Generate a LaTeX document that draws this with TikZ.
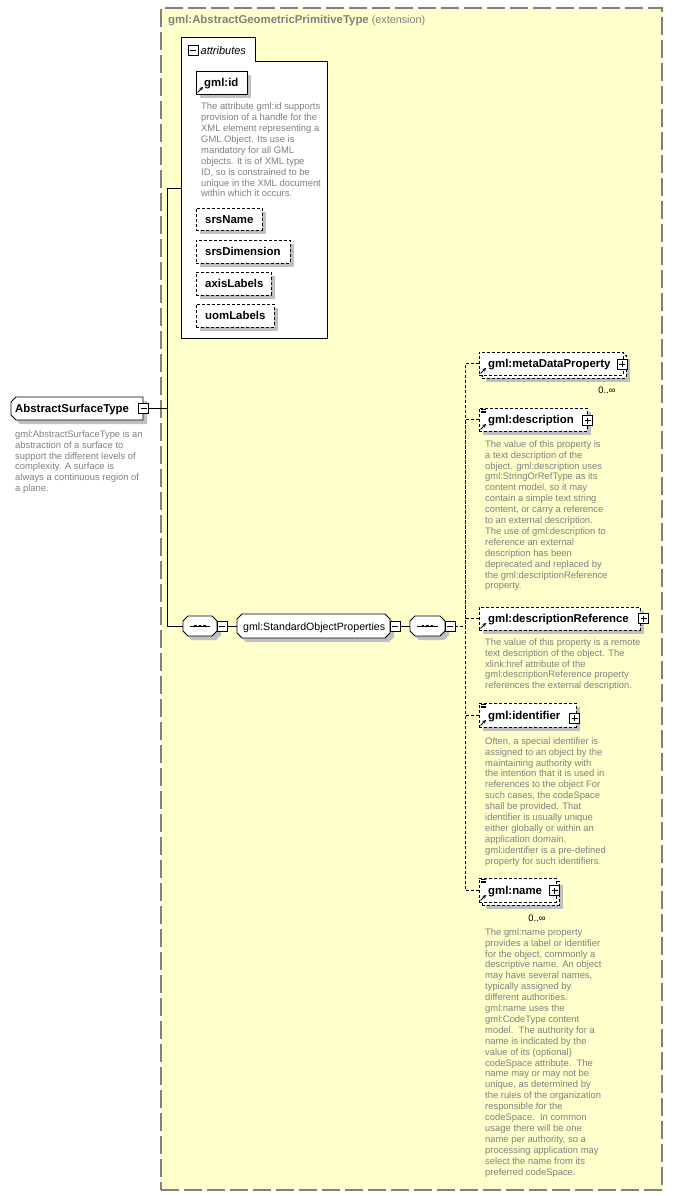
\documentclass[tikz,border=0pt]{standalone}
\usepackage{fontspec}
\setmainfont{Liberation Sans}
\usetikzlibrary{fit,arrows.meta}
\definecolor{yel}{RGB}{255,255,204}
\definecolor{bordergray}{RGB}{128,128,128}
\definecolor{descgray}{RGB}{128,128,128}
\definecolor{shadowc}{RGB}{192,192,192}

\newcommand\Cham[6]{%
 \fill[shadowc] (#1+4+#5,#2+4) -- (#3+4-#6,#2+4) -- (#3+4,#2+4+#6) -- (#3+4,#4+4-#6) -- (#3+4-#6,#4+4) -- (#1+4+#5,#4+4) -- (#1+4,#4+4-#5) -- (#1+4,#2+4+#5) -- cycle;
 \filldraw[fill=white, draw=black, line width=0.9pt] (#1+#5,#2) -- (#3-#6,#2) -- (#3,#2+#6) -- (#3,#4-#6) -- (#3-#6,#4) -- (#1+#5,#4) -- (#1,#4-#5) -- (#1,#2+#5) -- cycle;}
\newcommand\Shad[4]{\fill[shadowc] (#1+4,#2+4) rectangle (#3+4,#4+4);}
\newcommand\SeqDots[1]{%
 \draw[line width=0.9pt] ([xshift=7pt]#1.west) -- ([xshift=-7pt]#1.east);
 \foreach \dx in {-4.5,0,4.5} \fill ([shift={(\dx-1.3,-1.3)}]#1.center) rectangle ([shift={(\dx+1.3,1.3)}]#1.center);}
\newcommand\RefArrow[1]{\draw[-{Stealth[length=3.6pt,width=3.6pt]}, line width=0.9pt] ([shift={(2,-2)}]#1.south west) -- ([shift={(7.5,-7.5)}]#1.south west);}
\newcommand\MixIcon[1]{\foreach \dd in {1.5,3.3,5.1}{\draw[line width=0.6pt] ([shift={(2,\dd)}]#1.north west) -- ([shift={(7.5,\dd)}]#1.north west);}}

\tikzset{
 elem/.style={draw=black, fill=white, line width=0.9pt, inner sep=0pt},
 optelem/.style={elem, dash pattern=on 3pt off 2pt},
 ghost/.style={draw=none, inner sep=0pt},
 ename/.style={anchor=base west, inner sep=0pt, font=\fontsize{11.4}{13}\selectfont\bfseries},
 desc/.style={anchor=north west, inner sep=0pt, align=left, text=descgray, font=\fontsize{9.4}{10.9}\selectfont},
 mult/.style={anchor=base, inner sep=0pt, font=\fontsize{9.4}{11}\selectfont},
 pm/.style={draw=black, fill=white, line width=0.9pt, minimum size=10pt, inner sep=0pt},
 minusbox/.style={pm, path picture={\draw[line width=0.9pt] ([xshift=2pt]path picture bounding box.west) -- ([xshift=-2pt]path picture bounding box.east);}},
 plusbox/.style={pm, path picture={\draw[line width=0.9pt] ([xshift=2pt]path picture bounding box.west) -- ([xshift=-2pt]path picture bounding box.east) ([yshift=-2pt]path picture bounding box.north) -- ([yshift=2pt]path picture bounding box.south);}},
 conn/.style={draw=black, line width=0.9pt},
 dconn/.style={draw=black, line width=0.9pt, dash pattern=on 3pt off 2pt},
}
\newcommand\FL{\rule{0pt}{7pt}}

\begin{document}
\begin{tikzpicture}[x=1pt,y=-1pt]
\useasboundingbox (0,0) rectangle (672,1196);
\fill[white] (0,0) rectangle (672,1196);

% extension container
\node[fit={(161,8)(662,1190)}, inner sep=0pt, fill=yel, draw=bordergray, line width=1.4pt, dash pattern=on 18pt off 5pt] (ext) {};
\node[anchor=base west, inner sep=0pt, text=descgray] (title) at (168,23.3) {\fontsize{11.4}{13}\selectfont\bfseries gml:AbstractGeometricPrimitiveType\mdseries\fontsize{10.8}{13}\selectfont{} (extension)};

% attributes
\filldraw[fill=white, draw=black, line width=1pt] (181,338) -- (181,38) -- (255,38) -- (255,62) -- (327,62) -- (327,338) -- cycle;
\node[ghost, fit={(181,62)(327,338)}] (attrs) {};
\node[minusbox] (attm) at (193,50.5) {};
\node[anchor=base west, inner sep=0pt, font=\fontsize{11}{13}\selectfont\itshape] (attT) at (200.5,54.5) {attributes};

\Shad{196}{71}{247}{94}
\node[elem, fit={(196,71)(247,94)}] (gid) {};
\node[ename] (gidT) at (204,86.5) {gml:id};
\RefArrow{gid}
\node[desc] (gidD) at (201,102.5) {\FL The attribute gml:id supports\\provision of a handle for the\\XML element representing a\\GML Object. Its use is\\mandatory for all GML\\objects. It is of XML type\\ID, so is constrained to be\\unique in the XML document\\within which it occurs.};

\Shad{196}{208}{262}{230}
\node[optelem, fit={(196,208)(262,230)}] (srsn) {};
\node[ename] (srsnT) at (205,223) {srsName};
\Shad{196}{240}{290}{263}
\node[optelem, fit={(196,240)(290,263)}] (srsd) {};
\node[ename] (srsdT) at (205,255.5) {srsDimension};
\Shad{196}{272}{271}{295}
\node[optelem, fit={(196,272)(271,295)}] (axl) {};
\node[ename] (axlT) at (205,287.5) {axisLabels};
\Shad{196}{304}{274}{327}
\node[optelem, fit={(196,304)(274,327)}] (uoml) {};
\node[ename] (uomlT) at (205,319.5) {uomLabels};

% main element
\Cham{11}{397}{143}{420}{5}{0}
\node[ghost, fit={(11,397)(143,420)}] (ast) {};
\node[ename] (astT) at (15,412.5) {AbstractSurfaceType};
\node[minusbox] (astm) at (143.5,408.5) {};
\node[desc] (astD) at (15,430) {\FL gml:AbstractSurfaceType is an\\abstraction of a surface to\\support the different levels of\\complexity. A surface is\\always a continuous region of\\a plane.};

% sequence chain
\Cham{183}{616}{217}{636}{5}{5}
\node[ghost, fit={(183,616)(217,636)}] (seq1) {};
\SeqDots{seq1}
\node[minusbox] (m1) at (222,626) {};
\Cham{237}{614}{390}{638}{5}{5}
\node[ghost, fit={(237,614)(390,638)}] (sop) {};
\node[anchor=base west, inner sep=0pt, font=\fontsize{10.6}{12}\selectfont] (sopT) at (243,630) {gml:StandardObjectProperties};
\node[minusbox] (m2) at (395,626) {};
\Cham{410}{616}{445}{636}{5}{5}
\node[ghost, fit={(410,616)(445,636)}] (seq2) {};
\SeqDots{seq2}
\node[minusbox] (m3) at (450,626) {};

% trunk connectors
\coordinate (trunkTop) at (167,188.5);
\draw[conn] (trunkTop -| attrs.west) -- (trunkTop) |- (seq1.west);
\draw[conn] (astm.east) -- (astm.east -| trunkTop);
\draw[conn] (m1.east) -- (sop.west);
\draw[conn] (m2.east) -- (seq2.west);
\coordinate (bus) at (465,626);
\draw[dconn] (m3.east) -- (bus);

% right column
\Shad{482}{355}{626}{378}
\node[optelem, fit={(482,355)(626,378)}] (metaB) {};
\node[optelem, fit={(479,352)(623,375)}] (meta) {};
\node[ename] (metaT) at (488,367.5) {gml:metaDataProperty};
\RefArrow{meta}
\node[plusbox] (metaP) at (622,364) {};
\node[mult] (metaM) at (607,393) {0..∞};

\Shad{479}{408}{587}{431}
\node[optelem, fit={(479,408)(587,431)}] (dsc) {};
\node[ename] (dscT) at (488,423.5) {gml:description};
\MixIcon{dsc}
\RefArrow{dsc}
\node[plusbox] (dscP) at (587.5,420.5) {};
\node[desc] (dscD) at (485,440) {\FL The value of this property is\\a text description of the\\object. gml:description uses\\gml:StringOrRefType as its\\content model, so it may\\contain a simple text string\\content, or carry a reference\\to an external description.\\The use of gml:description to\\reference an external\\description has been\\deprecated and replaced by\\the gml:descriptionReference\\property.};

\Shad{479}{607}{640}{630}
\node[optelem, fit={(479,607)(640,630)}] (dref) {};
\node[ename] (drefT) at (488,622.5) {gml:descriptionReference};
\RefArrow{dref}
\node[plusbox] (drefP) at (643.5,618.5) {};
\node[desc] (drefD) at (485,638) {\FL The value of this property is a remote\\text description of the object. The\\xlink:href attribute of the\\gml:descriptionReference property\\references the external description.};

\Shad{479}{703}{576}{727}
\node[optelem, fit={(479,703)(576,727)}] (idn) {};
\node[ename] (idnT) at (488,719) {gml:identifier};
\MixIcon{idn}
\RefArrow{idn}
\node[plusbox] (idnP) at (574.5,718) {};
\node[desc] (idnD) at (485,737) {\FL Often, a special identifier is\\assigned to an object by the\\maintaining authority with\\the intention that it is used in\\references to the object For\\such cases, the codeSpace\\shall be provided. That\\identifier is usually unique\\either globally or within an\\application domain.\\gml:identifier is a pre-defined\\property for such identifiers.};

\Shad{482}{881}{559}{905}
\node[optelem, fit={(482,881)(559,905)}] (nmB) {};
\node[optelem, fit={(479,878)(556,902)}] (nm) {};
\node[ename] (nmT) at (488,894) {gml:name};
\MixIcon{nm}
\RefArrow{nm}
\node[plusbox] (nmP) at (554.5,890.5) {};
\node[mult] (nmM) at (537,921) {0..∞};
\node[desc] (nmD) at (485,928) {\FL The gml:name property\\provides a label or identifier\\for the object, commonly a\\descriptive name. An object\\may have several names,\\typically assigned by\\different authorities.\\gml:name uses the\\gml:CodeType content\\model.\ \ The authority for a\\name is indicated by the\\value of its (optional)\\codeSpace attribute.\ \ The\\name may or may not be\\unique, as determined by\\the rules of the organization\\responsible for the\\codeSpace.\ \ In common\\usage there will be one\\name per authority, so a\\processing application may\\select the name from its\\preferred codeSpace.};

% dashed choice connectors
\draw[dconn] (meta.west) -| (bus);
\draw[dconn] (dsc.west) -| (bus);
\draw[dconn] (dref.west) -| (bus);
\draw[dconn] (idn.west) -| (bus);
\draw[dconn] (nm.west) -| (bus);
\end{tikzpicture}
\end{document}
